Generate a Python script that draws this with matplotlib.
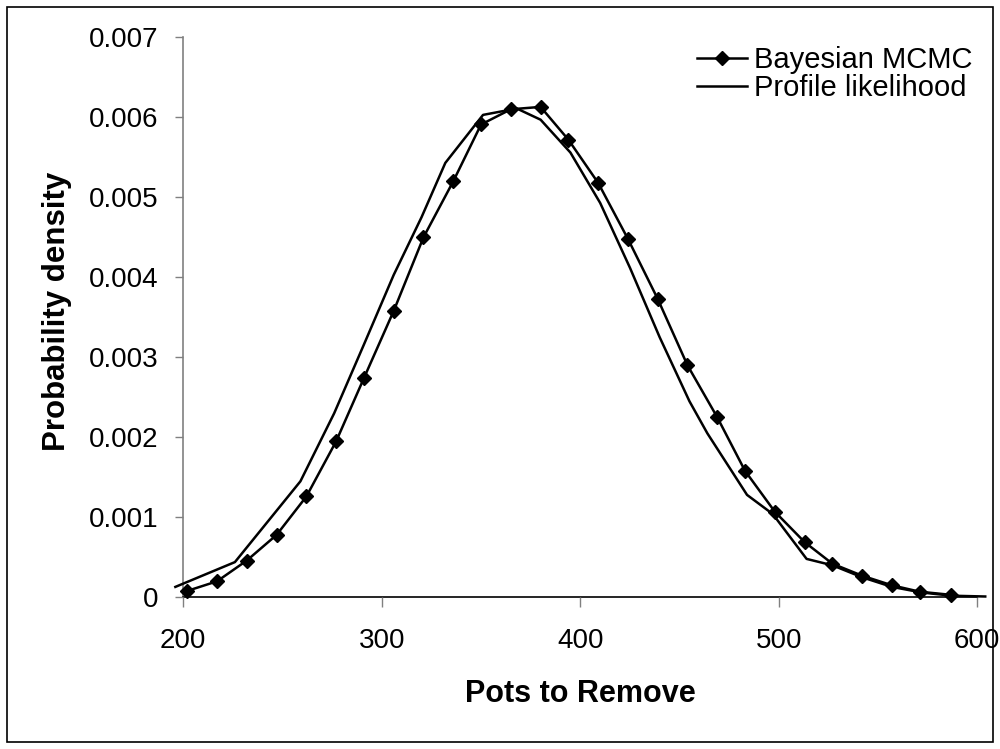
import matplotlib
matplotlib.use("Agg")
import matplotlib.pyplot as plt
from matplotlib.patches import Rectangle
from matplotlib.ticker import FuncFormatter

# Bayesian MCMC (points with diamond markers)
mcmc_x = [202, 217, 232, 247, 262, 277, 291, 306, 321, 336, 350, 365, 380,
          394, 409, 424, 439, 454, 469, 483, 498, 513, 527, 542, 557, 571, 587]
mcmc_y = [0.00008, 0.00020, 0.00046, 0.00078, 0.00126, 0.00195, 0.00274,
          0.00358, 0.00450, 0.00520, 0.00591, 0.00610, 0.00613, 0.00572,
          0.00518, 0.00448, 0.00373, 0.00290, 0.00225, 0.00158, 0.00107,
          0.00069, 0.00042, 0.00027, 0.00015, 0.00007, 0.00003]

# Profile likelihood (plain line)
prof_x = [196, 226, 259, 276, 291, 306, 320, 332, 351, 368, 380, 395, 410,
          425, 440, 455, 464, 484, 497, 514, 527, 542, 557, 572, 587, 604]
prof_y = [0.00013, 0.00044, 0.00145, 0.00230, 0.00316, 0.00403, 0.00475,
          0.00543, 0.00603, 0.00611, 0.00597, 0.00556, 0.00493, 0.00412,
          0.00325, 0.00245, 0.00205, 0.00128, 0.00104, 0.00048, 0.00040,
          0.00025, 0.00013, 0.00006, 0.00002, 0.00001]

x_ticks = [200, 300, 400, 500, 600]
y_ticks = [0, 0.001, 0.002, 0.003, 0.004, 0.005, 0.006, 0.007]

plt.rcParams['font.family'] = ['Liberation Sans', 'DejaVu Sans']

W, H = 1000, 749
fig = plt.figure(figsize=(W / 100, H / 100), dpi=100)
L, R, T, B = 183.3, 977.3, 37.3, 597.3
ax = fig.add_axes([L / W, 1 - B / H, (R - L) / W, (B - T) / H])

ax.plot(mcmc_x, mcmc_y, color='black', lw=1.8, marker='D', ms=7.5,
        label='Bayesian MCMC', zorder=3, clip_on=False)
ax.plot(prof_x, prof_y, color='black', lw=1.8, label='Profile likelihood',
        zorder=2, clip_on=False)

ax.set_xlim(200, 600)
ax.set_ylim(0, 0.007)
ax.set_xticks(x_ticks)
ax.set_yticks(y_ticks)
ax.yaxis.set_major_formatter(FuncFormatter(lambda v, p: '0' if v == 0 else f'{v:.3f}'))

for s in ['top', 'right']:
    ax.spines[s].set_visible(False)
ax.spines['left'].set_color('#808080')
ax.spines['left'].set_linewidth(1.2)
ax.spines['bottom'].set_color('black')
ax.spines['bottom'].set_linewidth(1.2)
ax.spines['left'].set_zorder(1)
ax.spines['bottom'].set_zorder(1)

ax.tick_params(axis='y', direction='out', length=5.8, width=1.0, color='#808080',
               labelsize=20, pad=12)
ax.tick_params(axis='x', direction='out', length=7.2, width=1.0, color='#808080',
               labelsize=20, pad=15)

ax.set_xlabel('Pots to Remove', fontsize=22, fontweight='bold', va='top')
ax.xaxis.set_label_coords(0.5, -0.146)
ax.set_ylabel('Probability density', fontsize=22.5, fontweight='bold')
ax.yaxis.set_label_coords(-0.140, 0.511)

leg = ax.legend(loc='upper left', bbox_to_anchor=(697 / W, 1 - 46 / H),
                bbox_transform=fig.transFigure, frameon=False, fontsize=21,
                borderpad=0, borderaxespad=0, handlelength=1.7,
                handletextpad=0.27, labelspacing=0.0)
for h in leg.legend_handles:
    h.set_markersize(7.5)

fig.add_artist(Rectangle((7 / W, 1 - 742 / H), (993 - 7) / W, (742 - 7) / H,
                         transform=fig.transFigure, fill=False,
                         edgecolor='black', lw=1.2))

fig.savefig('out.png', dpi=100)
